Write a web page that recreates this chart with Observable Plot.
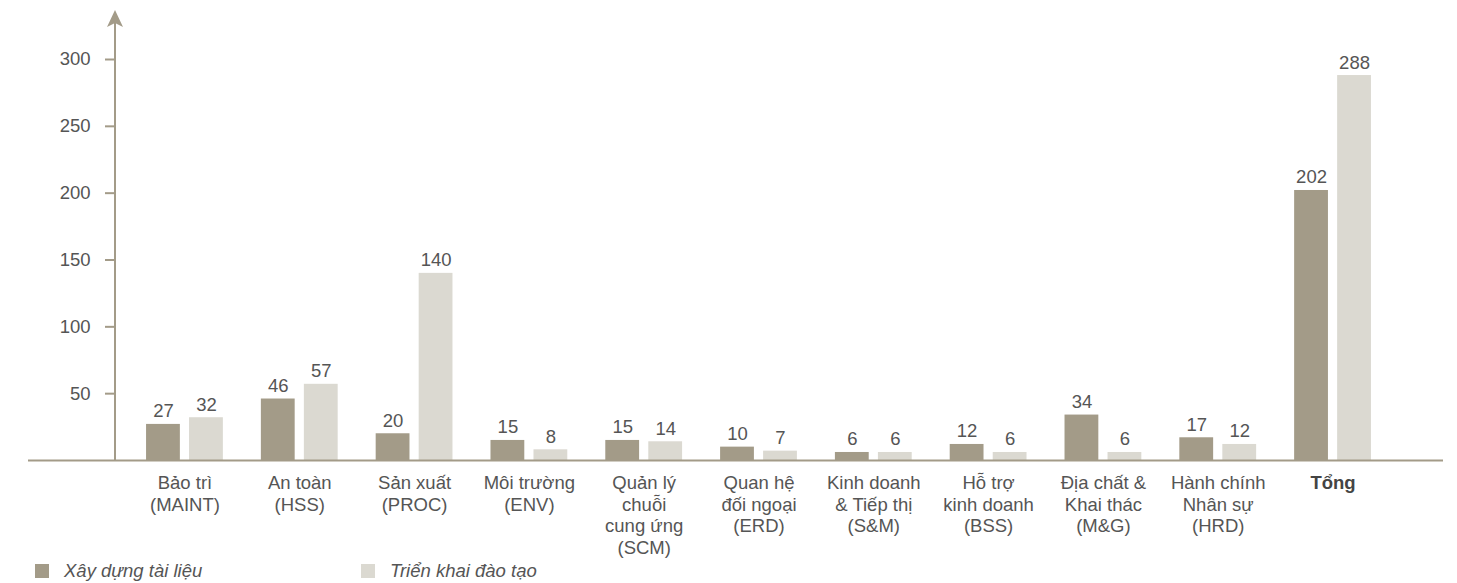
<!DOCTYPE html>
<html>
<head>
<meta charset="utf-8">
<script src="https://cdn.jsdelivr.net/npm/d3@7"></script>
<script src="https://cdn.jsdelivr.net/npm/@observablehq/plot@0.6"></script>
<style>
  html, body { margin: 0; padding: 0; background: #fff; }
  body { width: 1457px; height: 583px; overflow: hidden; font-family: "Liberation Sans", Arial, Helvetica, sans-serif; }
  #legend { position: relative; height: 25px; font-style: italic; font-size: 18.5px; color: #555; }
  .item { position: absolute; top: 2px; display: flex; align-items: center; }
  .sw { width: 14px; height: 14px; margin-right: 15px; }
</style>
</head>
<body>
<div id="chart"></div>
<div id="legend"></div>
<script>
const categories = [
  "Bảo trì\n(MAINT)",
  "An toàn\n(HSS)",
  "Sản xuất\n(PROC)",
  "Môi trường\n(ENV)",
  "Quản lý\nchuỗi\ncung ứng\n(SCM)",
  "Quan hệ\nđối ngoại\n(ERD)",
  "Kinh doanh\n& Tiếp thị\n(S&M)",
  "Hỗ trợ\nkinh doanh\n(BSS)",
  "Địa chất &\nKhai thác\n(M&G)",
  "Hành chính\nNhân sự\n(HRD)",
  "Tổng"
];
const seriesNames = ["Xây dựng tài liệu", "Triển khai đào tạo"];
const docs     = [27, 46, 20, 15, 15, 10, 6, 12, 34, 17, 202];
const training = [32, 57, 140, 8, 14, 7, 6, 6, 6, 12, 288];
const yTicks = [50, 100, 150, 200, 250, 300];

const darkColor = "#a39b88";
const lightColor = "#dbd9d1";
const axisColor = "#a39b88";
const textColor = "#555555";
const font = "'Liberation Sans', Arial, Helvetica, sans-serif";
const fs = 18.5;

const axisArrow = (index, scales, values, dims) => {
  const g = d3.create("svg:g");
  const x0 = dims.marginLeft;
  const y0 = scales.y(0);
  g.append("line")
    .attr("x1", x0).attr("x2", x0)
    .attr("y1", y0).attr("y2", 20)
    .attr("stroke", axisColor).attr("stroke-width", 2);
  g.append("path")
    .attr("d", `M${x0},10 L${x0 + 8},27 L${x0},23 L${x0 - 8},27Z`)
    .attr("fill", axisColor);
  return g.node();
};

const chart = Plot.plot({
  width: 1457,
  height: 558,
  marginLeft: 115,
  marginRight: 55,
  marginTop: 59,
  marginBottom: 98,
  style: { fontFamily: font, fontSize: fs + "px", color: textColor, background: "#fff" },
  x: { domain: categories, paddingInner: 0, paddingOuter: 0.105, round: false, axis: null },
  y: { domain: [0, 300], axis: null },
  marks: [
    Plot.barY(categories, { x: d => d, y: (d, i) => docs[i], fill: darkColor, insetLeft: 19, insetRight: 62 }),
    Plot.barY(categories, { x: d => d, y: (d, i) => training[i], fill: lightColor, insetLeft: 62, insetRight: 19 }),
    Plot.text(categories, { x: d => d, y: (d, i) => docs[i], text: (d, i) => String(docs[i]), dx: -21.5, dy: -7, lineAnchor: "bottom", fill: textColor, fontSize: fs }),
    Plot.text(categories, { x: d => d, y: (d, i) => training[i], text: (d, i) => String(training[i]), dx: 21.5, dy: -7, lineAnchor: "bottom", fill: textColor, fontSize: fs }),
    Plot.ruleY([0], { stroke: axisColor, strokeWidth: 2, insetLeft: -87, insetRight: -41 }),
    Plot.axisY(yTicks, { tickSize: 10, tickPadding: 15, stroke: axisColor, strokeWidth: 2, fill: textColor, fontSize: fs }),
    Plot.axisX(categories.slice(0, 10), { tickSize: 0, tickPadding: 13, fill: textColor, fontSize: fs, lineHeight: 1.17 }),
    Plot.axisX(categories.slice(10), { tickSize: 0, tickPadding: 13, fill: "#444", fontSize: fs, fontWeight: "bold", lineHeight: 1.17 }),
    axisArrow
  ]
});
document.getElementById("chart").appendChild(chart);

const legend = document.getElementById("legend");
[[seriesNames[0], darkColor, 35], [seriesNames[1], lightColor, 361]].forEach(([name, color, left]) => {
  const item = document.createElement("div");
  item.className = "item";
  item.style.left = left + "px";
  const sw = document.createElement("div");
  sw.className = "sw";
  sw.style.background = color;
  const label = document.createElement("span");
  label.textContent = name;
  item.appendChild(sw);
  item.appendChild(label);
  legend.appendChild(item);
});
</script>
</body>
</html>
